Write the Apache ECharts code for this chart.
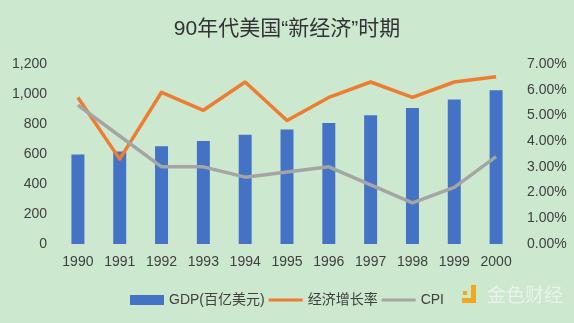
<!DOCTYPE html>
<html>
<head>
<meta charset="utf-8">
<script src="https://cdn.jsdelivr.net/npm/echarts@6/dist/echarts.min.js"></script>
<style>
  html, body { margin: 0; padding: 0; background: #cce8cf; }
  #chart { width: 574px; height: 323px; }
</style>
</head>
<body>
<div id="chart"></div>
<script>
// US economy in the 1990s: nominal GDP, growth rate and CPI
const years = ['1990', '1991', '1992', '1993', '1994', '1995', '1996', '1997', '1998', '1999', '2000'];
const gdp = [596, 616, 652, 686, 729, 764, 807, 858, 906, 963, 1025];          // 百亿美元
const growthRate = [5.7, 3.3, 5.9, 5.2, 6.3, 4.8, 5.7, 6.3, 5.7, 6.3, 6.5];     // %
const cpi = [5.4, 4.2, 3.0, 3.0, 2.6, 2.8, 3.0, 2.3, 1.6, 2.2, 3.4];            // %
const seriesNames = ['GDP(百亿美元)', '经济增长率', 'CPI'];

const font = '"Liberation Sans", "Noto Sans CJK SC", sans-serif';
const textColor = '#404040';
// thin horizontal stroke inside a 34x10 box, for the line series' legend keys
const lineKey = 'path://M0,3.6h34v2.8h-34z M0,0h0.05v0.05h-0.05z M33.95,9.95h0.05v0.05h-0.05z';

const chart = echarts.init(document.getElementById('chart'), null, { renderer: 'canvas' });
chart.setOption({
  backgroundColor: '#cce8cf',
  animation: false,
  textStyle: { fontFamily: font },
  title: {
    text: '90年代美国“新经济”时期',
    left: 'center',
    top: 14,
    textStyle: { fontFamily: font, fontSize: 21, fontWeight: 'normal', color: '#333333' }
  },
  legend: {
    data: [
      { name: seriesNames[0], icon: 'rect' },
      { name: seriesNames[1], icon: lineKey },
      { name: seriesNames[2], icon: lineKey }
    ],
    left: 'center',
    top: 288,
    itemWidth: 34,
    itemHeight: 10,
    itemGap: 4,
    textStyle: { fontFamily: font, fontSize: 14, color: textColor }
  },
  grid: { left: 57, right: 57, top: 64, bottom: 79, containLabel: false },
  xAxis: {
    type: 'category',
    data: years,
    boundaryGap: true,
    axisLine: { show: true, lineStyle: { color: '#d4e2d5', width: 1 } },
    axisTick: { show: false },
    axisLabel: { fontFamily: font, fontSize: 14, color: textColor, margin: 11 }
  },
  yAxis: [
    {
      type: 'value',
      min: 0, max: 1200, interval: 200,
      splitLine: { show: false },
      axisLine: { show: false },
      axisTick: { show: false },
      axisLabel: {
        fontFamily: font, fontSize: 14, color: textColor, margin: 10,
        formatter: v => v.toLocaleString('en-US')
      }
    },
    {
      type: 'value',
      min: 0, max: 7, interval: 1,
      splitLine: { show: false },
      axisLine: { show: false },
      axisTick: { show: false },
      axisLabel: {
        fontFamily: font, fontSize: 14, color: textColor, margin: 10,
        formatter: v => v.toFixed(2) + '%'
      }
    }
  ],
  series: [
    {
      name: seriesNames[0],
      type: 'bar',
      data: gdp,
      barWidth: '31%',
      itemStyle: { color: '#4472c4' }
    },
    {
      name: seriesNames[1],
      type: 'line',
      yAxisIndex: 1,
      data: growthRate,
      symbol: 'none',
      lineStyle: { color: '#ed7d31', width: 3.5, join: 'round' },
      itemStyle: { color: '#ed7d31' }
    },
    {
      name: seriesNames[2],
      type: 'line',
      yAxisIndex: 1,
      data: cpi,
      symbol: 'none',
      lineStyle: { color: '#a5a5a5', width: 3.5, join: 'round' },
      itemStyle: { color: '#a5a5a5' }
    }
  ],
  graphic: [
    {
      type: 'group',
      left: 462, top: 285,
      children: [
        { type: 'rect', shape: { x: 9, y: 0, width: 5, height: 18 }, style: { fill: '#f0a820' } },
        { type: 'rect', shape: { x: 0, y: 13, width: 14, height: 5 }, style: { fill: '#f0a820' } },
        { type: 'rect', shape: { x: 1, y: 6, width: 4, height: 4 }, style: { fill: '#f0a820' } },
        {
          type: 'text', left: 25, top: 0,
          style: { text: '金色财经', fontFamily: '"Noto Sans CJK SC", sans-serif', fontSize: 19, fill: '#eef3ee', opacity: 0.9 }
        }
      ]
    }
  ]
});
</script>
</body>
</html>
